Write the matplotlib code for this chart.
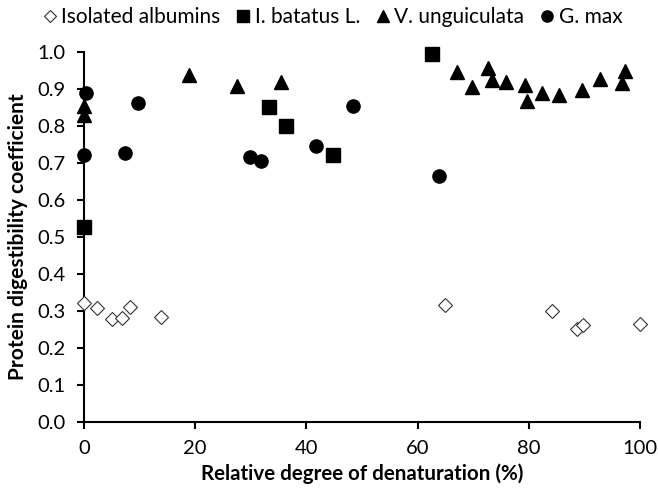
import matplotlib
matplotlib.use("Agg")
import matplotlib.pyplot as plt

plt.rcParams["font.family"] = ["Lato", "DejaVu Sans"]

# Isolated albumins
alb_x = [0, 2.3, 5.0, 6.9, 8.3, 13.8, 65.0, 84.2, 88.6, 89.7, 100]
alb_y = [0.322, 0.309, 0.277, 0.280, 0.311, 0.284, 0.317, 0.300, 0.250, 0.262, 0.264]

# I. batatus L.
bat_x = [0, 33.3, 36.4, 44.7, 62.5]
bat_y = [0.528, 0.851, 0.802, 0.723, 0.997]

# V. unguiculata
ung_x = [0, 0, 18.9, 27.6, 35.5, 67.1, 69.8, 72.7, 73.4, 75.9, 79.3, 79.7,
         82.3, 85.4, 89.6, 92.8, 96.7, 97.3]
ung_y = [0.855, 0.830, 0.940, 0.910, 0.920, 0.946, 0.907, 0.957, 0.925, 0.920,
         0.913, 0.868, 0.891, 0.884, 0.898, 0.928, 0.918, 0.949]

# G. max
max_x = [0.3, 0, 7.3, 9.7, 29.8, 31.9, 41.7, 48.4, 63.8]
max_y = [0.889, 0.722, 0.728, 0.864, 0.717, 0.707, 0.748, 0.855, 0.666]

fig = plt.figure(figsize=(6.58, 4.93), dpi=100)
ax = fig.add_axes([0.1277, 0.1446, 0.845, 0.749])

ax.plot(alb_x, alb_y, "D", ms=7, mfc="white", mec="#333333", mew=0.8,
        ls="none", label="Isolated albumins", clip_on=False, zorder=3)
ax.plot(bat_x, bat_y, "s", ms=9.5, color="black", ls="none",
        label="I. batatus L.", clip_on=False, zorder=3)
ax.plot(ung_x, ung_y, "^", ms=9.5, color="black", ls="none",
        label="V. unguiculata", clip_on=False, zorder=3)
ax.plot(max_x, max_y, "o", ms=9.5, color="black", ls="none",
        label="G. max", clip_on=False, zorder=3)

ax.set_xlim(0, 100)
ax.set_ylim(0, 1.0)
ax.set_xticks([0, 20, 40, 60, 80, 100])
ax.set_yticks([i / 10 for i in range(11)])
ax.set_yticklabels([f"{i / 10:.1f}" for i in range(11)])
for s in ("top", "right"):
    ax.spines[s].set_visible(False)
for s in ("left", "bottom"):
    ax.spines[s].set_linewidth(1.5)
ax.tick_params(direction="out", length=5, width=1.5, labelsize=14.5, pad=8)

ax.set_xlabel("Relative degree of denaturation (%)", fontsize=14.8,
              fontweight="bold", labelpad=5)
ax.set_ylabel("Protein digestibility coefficient", fontsize=15,
              fontweight="bold", labelpad=7)

fig.legend(loc="center", bbox_to_anchor=(0.506, 0.965), ncol=4, frameon=False,
           fontsize=15, handletextpad=0.25, columnspacing=0.8, handlelength=0.6,
           markerscale=0.85, borderpad=0)

fig.savefig("out.png", dpi=100)
